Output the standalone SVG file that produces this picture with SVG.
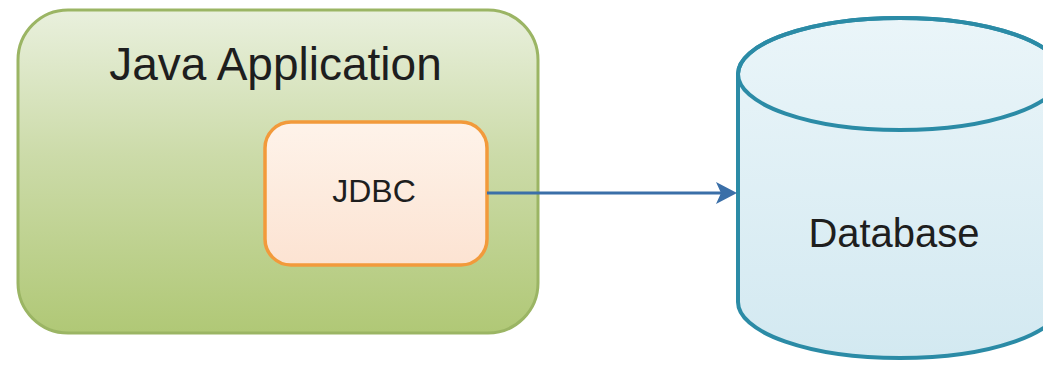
<svg xmlns="http://www.w3.org/2000/svg" width="1043" height="365" viewBox="0 0 1043 365">
<defs>
<linearGradient id="gGreen" x1="0" y1="0" x2="0" y2="1">
<stop offset="0" stop-color="#E9F0DD"/>
<stop offset="0.45" stop-color="#CCDBA9"/>
<stop offset="1" stop-color="#B0C876"/>
</linearGradient>
<linearGradient id="gOrange" x1="0" y1="0" x2="0" y2="1">
<stop offset="0" stop-color="#FEF3EA"/>
<stop offset="1" stop-color="#FCE3D2"/>
</linearGradient>
<linearGradient id="gBlue" x1="0" y1="0" x2="0" y2="1">
<stop offset="0" stop-color="#EAF5F9"/>
<stop offset="1" stop-color="#D3E9F1"/>
</linearGradient>
</defs>
<style>
text{font-family:"Liberation Sans",Arial,sans-serif;fill:#1e1e1e;text-anchor:middle}
</style>
<rect width="1043" height="365" fill="#FFFFFF"/>
<g id="java-application">
<rect x="18" y="10" width="520" height="323" rx="50" ry="50" fill="url(#gGreen)" stroke="#9BB564" stroke-width="3"/>
<text x="275.5" y="80" font-size="46">Java Application</text>
</g>
<g id="jdbc">
<rect x="265" y="122" width="222" height="143" rx="26" ry="26" fill="url(#gOrange)" stroke="#F29A3B" stroke-width="3.5"/>
<text x="374" y="202" font-size="32">JDBC</text>
</g>
<g id="database">
<path d="M738,74 L738,302 A162,56 0 0 0 1062,302 L1062,74 A162,56 0 0 0 738,74 Z" fill="url(#gBlue)" stroke="#2B8BA6" stroke-width="4"/>
<ellipse cx="900" cy="74" rx="162" ry="56" fill="none" stroke="#2B8BA6" stroke-width="4"/>
<text x="894" y="247" font-size="40">Database</text>
</g>
<g id="connectors">
<line x1="487" y1="193" x2="722" y2="193" stroke="#3A6FA8" stroke-width="3"/>
<polygon points="737,193 716,182 721,193 716,204" fill="#3A6FA8"/>
</g>
</svg>
